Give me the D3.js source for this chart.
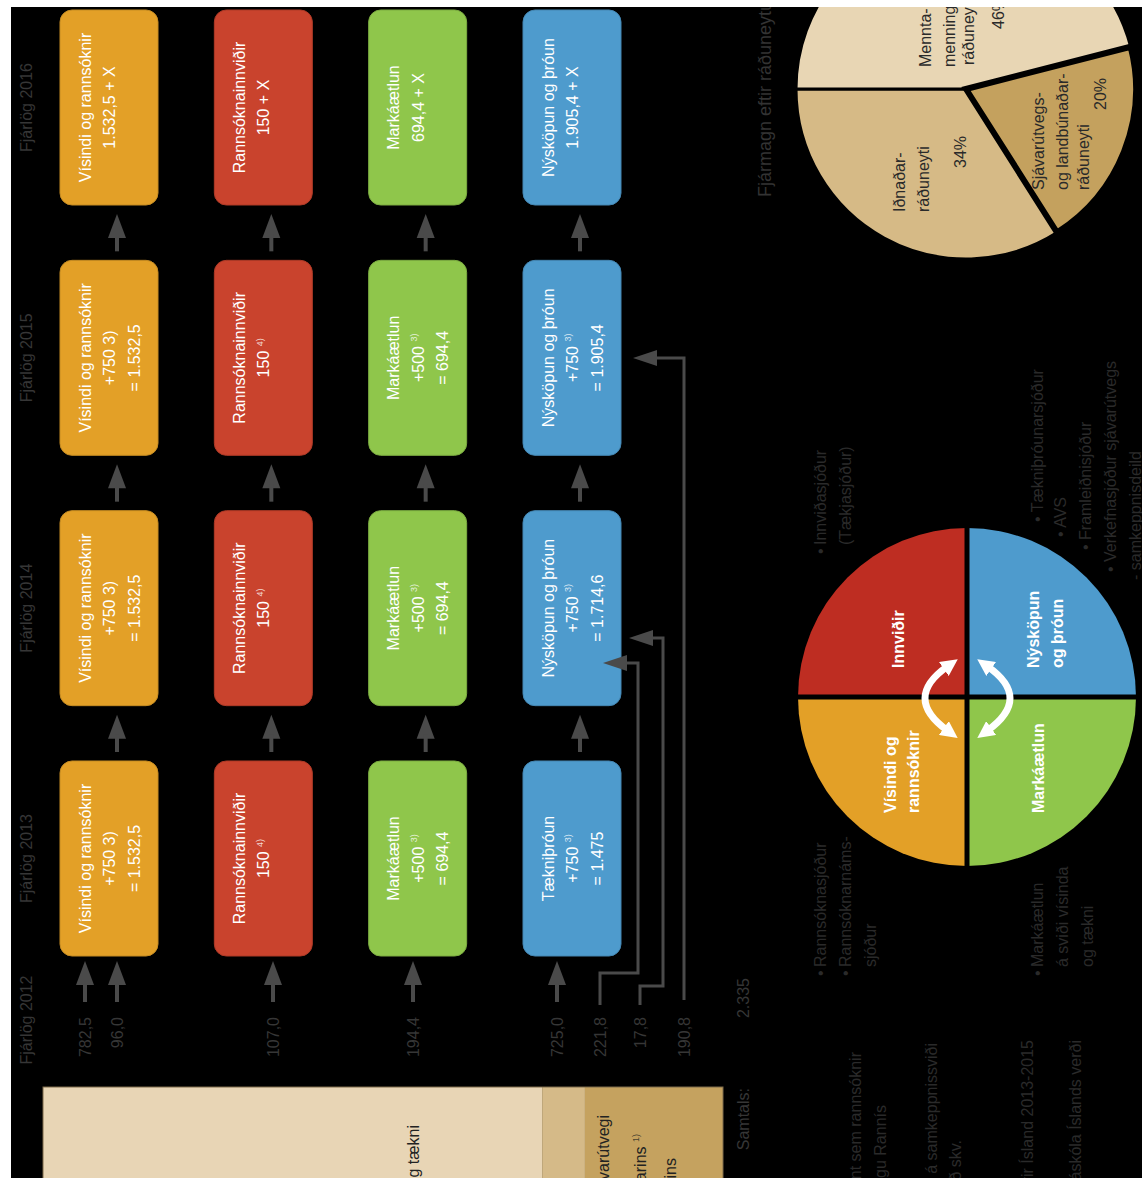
<!DOCTYPE html>
<html><head><meta charset="utf-8">
<script src="https://cdn.jsdelivr.net/npm/d3@7"></script>
<style>html,body{margin:0;padding:0;background:#fff}</style>
</head><body>
<svg id="c" width="1142" height="1178"></svg>
<script>
// ---------------- DATA ----------------
const boxYears = [2016, 2015, 2014, 2013];
const yearLabels = ["Fjárlög 2016", "Fjárlög 2015", "Fjárlög 2014", "Fjárlög 2013"];
const baseYearLabel = "Fjárlög 2012";
const categories = ["Vísindi og rannsóknir", "Rannsóknainnviðir", "Markáætlun", "Nýsköpun og þróun"];
// box text lines per year (| separates a superscript)
const boxes2016 = [["Vísindi og rannsóknir", "1.532,5 + X"], ["Rannsóknainnviðir", "150 + X"], ["Markáætlun", "694,4 + X"], ["Nýsköpun og þróun", "1.905,4 + X"]];
const boxes2015 = [["Vísindi og rannsóknir", "+750 3)", "= 1.532,5"], ["Rannsóknainnviðir", "150 |4)"], ["Markáætlun", "+500 |3)", "= 694,4"], ["Nýsköpun og þróun", "+750 |3)", "= 1.905,4"]];
const boxes2014 = [["Vísindi og rannsóknir", "+750 3)", "= 1.532,5"], ["Rannsóknainnviðir", "150 |4)"], ["Markáætlun", "+500 |3)", "= 694,4"], ["Nýsköpun og þróun", "+750 |3)", "= 1.714,6"]];
const boxes2013 = [["Vísindi og rannsóknir", "+750 3)", "= 1.532,5"], ["Rannsóknainnviðir", "150 |4)"], ["Markáætlun", "+500 |3)", "= 694,4"], ["Tækniþróun", "+750 |3)", "= 1.475"]];
const inputValues = ["782,5", "96,0", "107,0", "194,4", "725,0", "221,8", "17,8", "190,8"];
const totalLabel = "Samtals:";
const totalValue = "2.335";
const barShares = [73.4, 6.3, 20.3];
const barTexts = [["Mennta- og menningarmálaráðuneyti: sjóðir á sviði vísinda og tækni"], ["", ""], ["Atvinnuvega- og nýsköpunarráðuneyti: sjóðir í sjávarútvegi", "og á sviði landbúnaðarins |1)", "og sjóðir í umsjá ríkisins"]];
const wheelSegments = ["Nýsköpun og þróun", "Markáætlun", "Vísindi og rannsóknir", "Innviðir"];
const wheelLabels = [["Nýsköpun", "og þróun"], ["Markáætlun"], ["Vísindi og", "rannsóknir"], ["Innviðir"]];
const pieMinistries = ["Iðnaðarráðuneyti", "Mennta- og menningarmálaráðuneyti", "Sjávarútvegs- og landbúnaðarráðuneyti"];
const pieShares = [34, 46, 20];
const pieLabelLines = [["Iðnaðar-", "ráðuneyti"], ["Mennta- og", "menningarmála-", "ráðuneyti"], ["Sjávarútvegs-", "og landbúnaðar-", "ráðuneyti"]];
const pieTitle = "Fjármagn eftir ráðuneytum";
const listInnvidir = ["Innviðasjóður", "(Tækjasjóður)"];
const listVisindi = ["Rannsóknasjóður", "Rannsóknarnáms-", "sjóður"];
const listMarkaaetlun = ["Markáætlun", "á sviði vísinda", "og tækni"];
const listNyskopun = ["• Tækniþróunarsjóður", "• AVS", "• Framleiðnisjóður", "• Verkefnasjóður sjávarútvegs", "- samkeppnisdeild"];
const footnotes = ["1) Framlög til sjóða sem hafa verið skilgreint sem rannsóknir", "og þróun, en eru ekki í vörslu eða eigu Rannís", "2) Gert er ráð fyrir að fjármagni verði úthlutað á samkeppnissviði", "og því úthlutað skv.", "3) Fjárfestingaráætlun fyrir Ísland 2013-2015", "4) Gert er ráð fyrir að framlag til Háskóla Íslands verði"];

// ---------------- LAYOUT / STYLE ----------------
const colors = ["#E3A027", "#C9432D", "#8FC64B", "#4E9BCD"];
const FONT = "'Liberation Sans', Arial, sans-serif";
const dim = "#363636";
const faint = "#2a2a2a";
const svg = d3.select("#c");
svg.append("rect").attr("width", 1142).attr("height", 1178).attr("fill", "#fff");
svg.append("defs").append("clipPath").attr("id", "clip").append("rect").attr("x", 11).attr("y", 7).attr("width", 1131).attr("height", 1171);
const defs = svg.select("defs");
defs.append("marker").attr("id", "wh").attr("viewBox", "0 0 10 10").attr("refX", 3).attr("refY", 5)
  .attr("markerWidth", 17).attr("markerHeight", 17).attr("markerUnits", "userSpaceOnUse").attr("orient", "auto-start-reverse")
  .append("path").attr("d", "M0,0 L10,5 L0,10 z").attr("fill", "#fff");
const root = svg.append("g").attr("clip-path", "url(#clip)");
root.append("rect").attr("x", 11).attr("y", 7).attr("width", 1131).attr("height", 1171).attr("fill", "#000");

function vtext(g, x, y, str, o = {}) {
  const t = g.append("text").attr("transform", `translate(${x},${y}) rotate(-90)`)
    .attr("dy", "0.35em").attr("text-anchor", o.anchor || "middle")
    .attr("font-family", FONT).attr("font-size", o.size || 16)
    .attr("font-weight", o.weight || "normal").attr("fill", o.fill || "#fff");
  const parts = str.split("|");
  t.append("tspan").text(parts[0]);
  if (parts[1]) t.append("tspan").attr("font-size", 9).attr("dy", "-0.75em").attr("fill-opacity", 0.8).text(parts[1]);
  return t;
}
function upArrow(g, x, tip, bottom) {
  g.append("path").attr("d", `M${x - 9},${tip + 24} L${x},${tip} L${x + 9},${tip + 24} Z`).attr("fill", "#4a4a4a");
  g.append("line").attr("x1", x).attr("x2", x).attr("y1", tip + 20).attr("y2", bottom).attr("stroke", "#4a4a4a").attr("stroke-width", 4);
}
function leftArrowHead(g, tipX, y) {
  g.append("path").attr("d", `M${tipX + 24},${y - 8} L${tipX},${y} L${tipX + 24},${y + 8} Z`).attr("fill", "#4a4a4a");
}

// scales
const yTop = d3.scaleLinear().domain([2016, 2013]).range([10, 761]);
const xCol = d3.scaleLinear().domain([0, 3]).range([60, 523]);
const boxW = 98, boxH = 195;
const allBoxes = {2016: boxes2016, 2015: boxes2015, 2014: boxes2014, 2013: boxes2013};

// year labels
boxYears.forEach((yr, i) => vtext(root, 26, yTop(yr) + boxH / 2, yearLabels[i], {fill: dim}));
vtext(root, 26, 1020, baseYearLabel, {fill: dim});

// boxes
boxYears.forEach(yr => {
  allBoxes[yr].forEach((lines, ci) => {
    const x = xCol(ci), y = yTop(yr);
    root.append("rect").attr("x", x).attr("y", y).attr("width", boxW).attr("height", boxH).attr("rx", 12)
      .attr("fill", colors[ci]).attr("stroke", d3.color(colors[ci]).darker(0.4)).attr("stroke-width", 1);
    lines.forEach((ln, li) => vtext(root, x + 25 + li * 24.5, y + boxH / 2, ln));
    if (yr !== 2013) {
      upArrow(root, x + boxW / 2 + 8, y + boxH + 9, yTop(yr - 1) - 9);
    }
  });
});

// 2012 inputs
const inputX = [85, 117, 273, 413, 557, 600, 640, 684];
inputValues.forEach((v, i) => vtext(root, inputX[i], 1017, v, {anchor: "end", fill: dim}));
[0, 1, 2, 3, 4].forEach(i => upArrow(root, inputX[i], yTop(2013) + boxH + 5, 1002));
const lineStyle = p => root.append("path").attr("d", p).attr("fill", "none").attr("stroke", "#4a4a4a").attr("stroke-width", 3);
lineStyle("M600,1005 V973 H638 V663 H625"); leftArrowHead(root, 603, 663);
lineStyle("M640,1005 V986 H663 V638 H650"); leftArrowHead(root, 629, 638);
lineStyle("M684,1000 V358 H655"); leftArrowHead(root, 633, 358);

// total
vtext(root, 743, 978, totalValue, {anchor: "end", fill: dim});
vtext(root, 743, 1088, totalLabel, {anchor: "end", fill: dim});

// stacked bar
const barX = d3.scaleLinear().domain([0, 100]).range([43, 723]);
const barColors = ["#E8D5B5", "#D5BA88", "#C5A25F"];
let acc = 0;
const barG = root.append("g");
barShares.forEach((s, i) => {
  barG.append("rect").attr("x", barX(acc)).attr("y", 1087).attr("width", barX(acc + s) - barX(acc)).attr("height", 120).attr("fill", barColors[i]);
  acc += s;
});
barG.append("rect").attr("x", barX(0)).attr("y", 1087).attr("width", barX(100) - barX(0)).attr("height", 120)
  .attr("fill", "none").attr("stroke", "#7d6a4a").attr("stroke-width", 1);
vtext(root, 413, 1125, barTexts[0][0], {anchor: "end", fill: "#222", size: 16});
vtext(root, 603, 1115, barTexts[2][0], {anchor: "end", fill: "#222", size: 16});
vtext(root, 640, 1134, barTexts[2][1], {anchor: "end", fill: "#222", size: 16});
vtext(root, 670, 1158, barTexts[2][2], {anchor: "end", fill: "#222", size: 16});

// footnotes (faint)
const fnX = [855, 880, 931, 955, 1027, 1075];
const fnY = [1052, 1105, 1043, 1140, 1040, 1040];
footnotes.forEach((f, i) => vtext(root, fnX[i], fnY[i], f, {anchor: "end", fill: faint, size: 16}));

// wheel
const wc = [967, 697], wr = 169;
const wheelPie = d3.pie().sort(null).value(() => 1)(wheelSegments);
const wheelColors = [colors[3], colors[2], colors[0], "#BE2D22"];
const arcW = d3.arc().innerRadius(0).outerRadius(wr);
const wg = root.append("g").attr("transform", `translate(${wc[0]},${wc[1]})`);
wg.selectAll("path.q").data(wheelPie).join("path").attr("d", arcW).attr("fill", (d, i) => wheelColors[i]);
wg.append("line").attr("x1", 0).attr("x2", 0).attr("y1", -wr - 3).attr("y2", wr + 3).attr("stroke", "#000").attr("stroke-width", 5);
wg.append("line").attr("y1", 0).attr("y2", 0).attr("x1", -wr - 3).attr("x2", wr + 3).attr("stroke", "#000").attr("stroke-width", 5);
const wlPos = [[[1033, 668], [1057, 668]], [[1038, 813]], [[890, 813], [913, 813]], [[898, 668]]];
wheelLabels.forEach((lines, i) => lines.forEach((l, j) => vtext(root, wlPos[i][j][0], wlPos[i][j][1], l, {anchor: "start", weight: "bold", size: 16})));
root.append("path").attr("d", "M948,666 Q902,698 948,731").attr("fill", "none").attr("stroke", "#fff").attr("stroke-width", 7)
  .attr("marker-start", "url(#wh)").attr("marker-end", "url(#wh)");
root.append("path").attr("d", "M987,666 Q1033,698 987,731").attr("fill", "none").attr("stroke", "#fff").attr("stroke-width", 7)
  .attr("marker-start", "url(#wh)").attr("marker-end", "url(#wh)");

// lists around wheel
function bulletList(x0, step, yStart, items, indentFrom) {
  items.forEach((t, i) => {
    const x = x0 + i * step;
    if (i < indentFrom) vtext(root, x, yStart + 9, "•", {anchor: "start", fill: faint});
    vtext(root, x, yStart, t, {anchor: "start", fill: faint});
  });
}
bulletList(820, 25, 545, listInnvidir, 1);
bulletList(820, 25, 967, listVisindi, 2);
bulletList(1037, 25, 967, listMarkaaetlun, 1);
const nyX = [1037, 1060, 1085, 1110, 1135];
const nyY = [522, 537, 550, 572, 580];
listNyskopun.forEach((t, i) => vtext(root, nyX[i], nyY[i], t, {anchor: "start", fill: faint}));

// ministry pie
const pc = [966, 89], pr = 170;
const pieGen = d3.pie().sort(null).startAngle(147.6 * Math.PI / 180).endAngle(147.6 * Math.PI / 180 + 2 * Math.PI);
const pieData = pieGen(pieShares);
const pieColors = ["#D6BA86", "#E8D6B4", "#C4A15E"];
const arcP = d3.arc().innerRadius(0).outerRadius(pr);
const pg = root.append("g").attr("transform", `translate(${pc[0]},${pc[1]})`);
pg.selectAll("path").data(pieData).join("path").attr("d", arcP).attr("fill", (d, i) => pieColors[i])
  .attr("stroke", "#000").attr("stroke-width", (d, i) => i === 2 ? 6 : 3).attr("stroke-linejoin", "miter");
pg.selectAll("path").filter((d, i) => i === 2).raise();
const pieLabelPos = [[[899, 212], [923, 212]], [[925, 67], [949, 67], [968, 65]], [[1038, 190], [1062, 190], [1083, 190]]];
const piePctPos = [[960, 168], [998, 29], [1100, 110]];
pieLabelLines.forEach((lines, i) => {
  lines.forEach((l, j) => vtext(root, pieLabelPos[i][j][0], pieLabelPos[i][j][1], l, {anchor: "start", fill: "#2a2a2a", size: 16}));
  vtext(root, piePctPos[i][0], piePctPos[i][1], pieShares[i] + "%", {anchor: "start", fill: "#2a2a2a", size: 16});
});
vtext(root, 765, 197, pieTitle, {anchor: "start", fill: "#333", size: 18});
</script>
</body></html>
